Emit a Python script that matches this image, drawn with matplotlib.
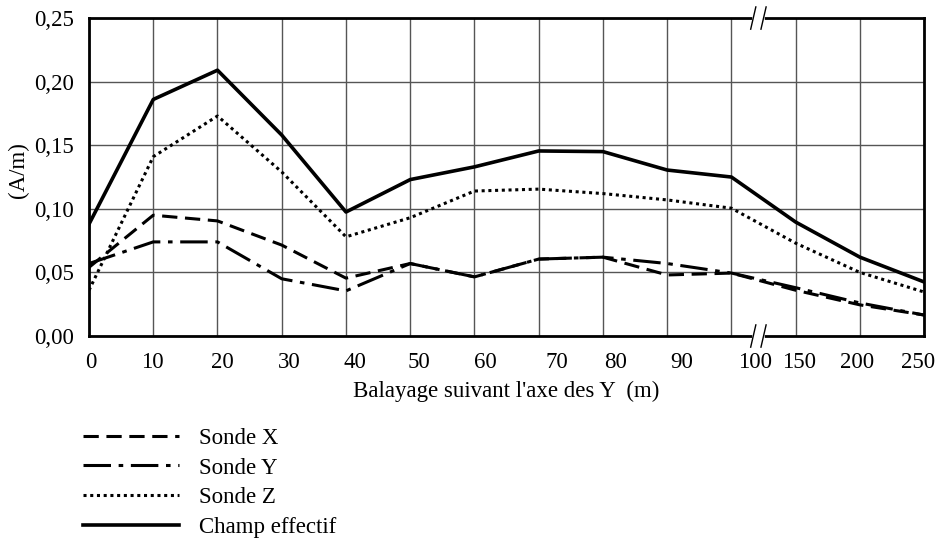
import matplotlib
matplotlib.use("Agg")
import matplotlib.pyplot as plt
from matplotlib.ticker import FuncFormatter

plt.rcParams['font.family'] = ['Liberation Serif', 'DejaVu Serif']

# balayage suivant Y (m) ; axe coupé après 100
distances = ['0', '10', '20', '30', '40', '50', '60', '70', '80', '90', '100', '150', '200', '250']
sonde_x = [0.054, 0.095, 0.0905, 0.0715, 0.0455, 0.057, 0.0465, 0.0605, 0.062, 0.048, 0.0495, 0.036, 0.0245, 0.0165]
sonde_y = [0.057, 0.074, 0.074, 0.045, 0.0355, 0.057, 0.0465, 0.0605, 0.062, 0.057, 0.0495, 0.038, 0.026, 0.0165]
sonde_z = [0.036, 0.141, 0.173, 0.129, 0.078, 0.093, 0.114, 0.1155, 0.112, 0.107, 0.1005, 0.073, 0.050, 0.0346]
champ = [0.088, 0.186, 0.209, 0.158, 0.0975, 0.123, 0.133, 0.1455, 0.145, 0.1305, 0.125, 0.0896, 0.062, 0.0425]

idx = list(range(len(distances)))
fs = 16.5

fig = plt.figure(figsize=(9.43, 5.47), dpi=100)
ax = fig.add_axes([0.0944, 0.3857, 0.8856, 0.5813])

ax.plot(idx, sonde_x, color='black', lw=2.2, dashes=(5, 2.5), label='Sonde X')
ax.plot(idx, sonde_y, color='black', lw=2.2, dashes=(9, 2.5, 1.5, 2.5), label='Sonde Y')
ax.plot(idx, sonde_z, color='black', lw=2.2, dashes=(1, 1.2), label='Sonde Z')
ax.plot(idx, champ, color='black', lw=2.6, label='Champ effectif')

ax.set_xlim(0, len(distances) - 1)
ax.set_ylim(0, 0.25)
ax.set_yticks([0, 0.05, 0.10, 0.15, 0.20, 0.25])
ax.yaxis.set_major_formatter(FuncFormatter(lambda v, p: f"{v:.2f}".replace('.', ',')))
ax.set_xticks(idx)
ax.set_xticklabels([])
ax.grid(True, color='#555555', lw=1.0)
ax.tick_params(length=0, labelsize=fs, pad=11)
for s in ax.spines.values():
    s.set_linewidth(2)

# libellés de l'axe X, légèrement décalés
shift = [0.03, -0.02, 0.08, 0.12, 0.14, 0.14, 0.17, 0.28, 0.2, 0.23, 0.37, 0.05, -0.05, -0.1]
for i, lab in enumerate(distances):
    ax.text(i + shift[i], -0.05, lab, ha='center', va='top', fontsize=fs,
            transform=ax.get_xaxis_transform(), clip_on=False)

ax.text(0.5, -0.14, "Balayage suivant l'axe des Y  (m)", ha='center', va='top',
        fontsize=fs, transform=ax.transAxes)
ax.text(-0.084, 0.522, '(A/m)', rotation=90, ha='center', va='center',
        fontsize=fs, transform=ax.transAxes)

# coupure de l'axe
brk = 10.42
tr = ax.get_xaxis_transform()
for y0 in (1.0, 0.0):
    ax.plot([brk - 0.06, brk + 0.06], [y0, y0], color='white', lw=4, transform=tr, clip_on=False, zorder=5)
    for dx in (-0.08, 0.08):
        ax.plot([brk + dx - 0.04, brk + dx + 0.04], [y0 - 0.035, y0 + 0.035], color='black', lw=1,
                transform=tr, clip_on=False, zorder=6)

fig.legend(loc='upper left', bbox_to_anchor=(0.076, 0.239), frameon=False, fontsize=fs,
           handlelength=4.2, handletextpad=0.87, labelspacing=0.38, borderpad=0)

fig.savefig('out.png', dpi=100)
